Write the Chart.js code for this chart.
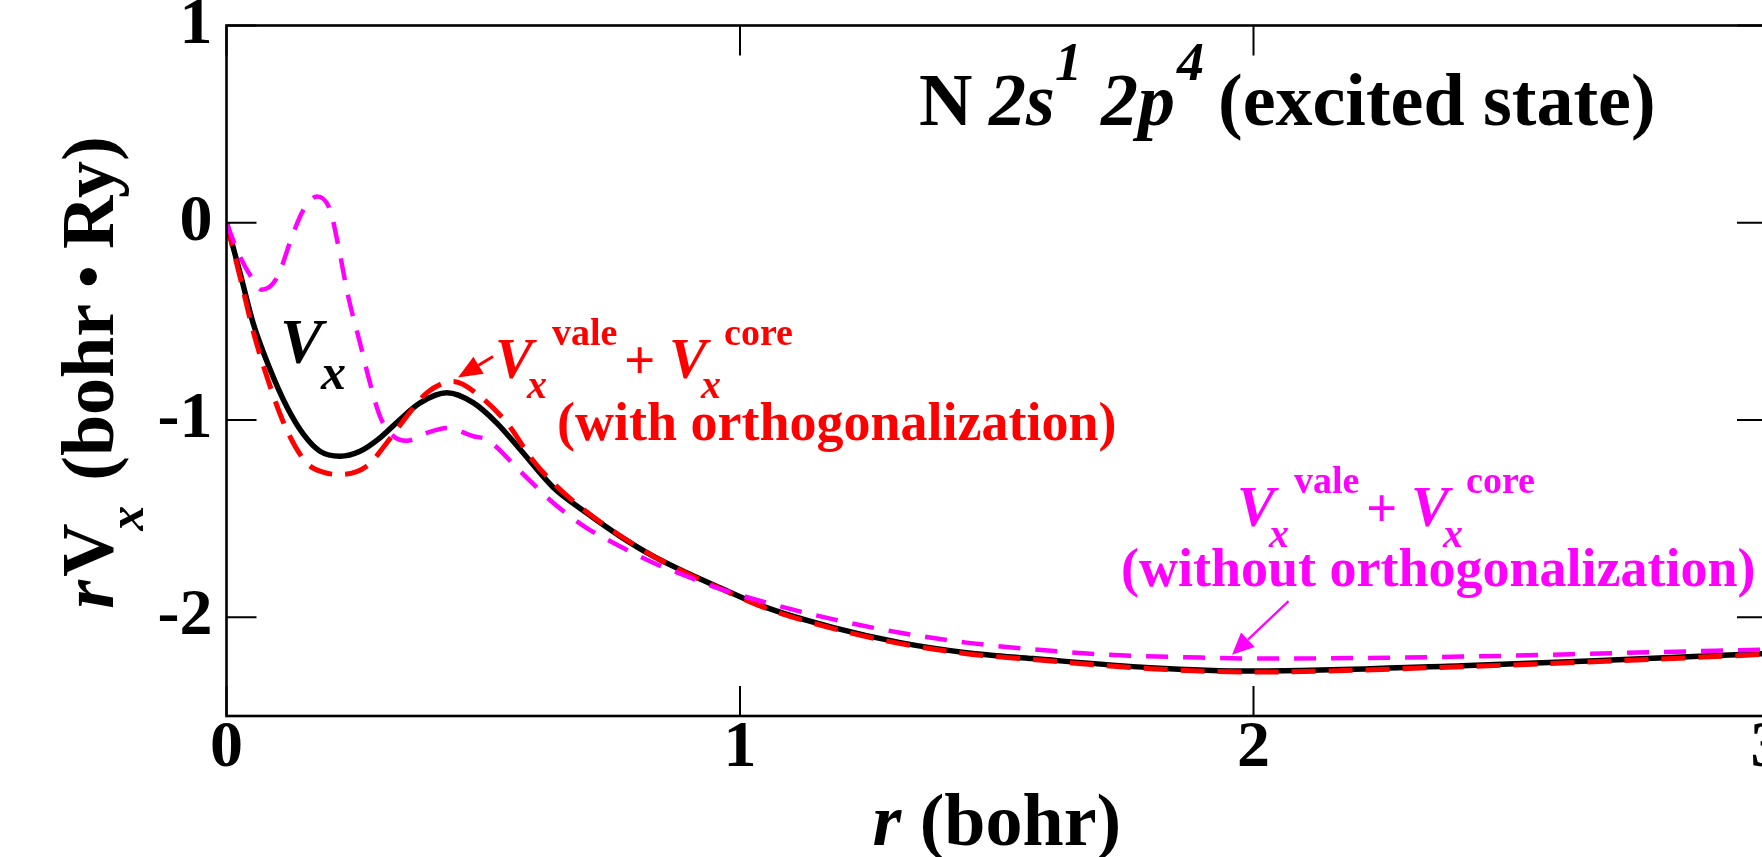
<!DOCTYPE html>
<html>
<head>
<meta charset="utf-8">
<script src="https://cdn.jsdelivr.net/npm/chart.js@4.4.1/dist/chart.umd.min.js"></script>
<style>
  html, body { margin: 0; padding: 0; background: #fff; overflow: hidden; width: 1762px; height: 857px; }
  #wrap { width: 1800px; height: 857px; }
  canvas { display: block; }
</style>
</head>
<body>
<div id="wrap"><canvas id="c" width="1800" height="857"></canvas></div>
<script>
// ---------------- data ----------------
const xTicks = [0, 1, 2, 3];
const yTicks = [-2, -1, 0, 1];

// V_x (black solid)
const rVx = [0, 0.026, 0.052, 0.085, 0.117, 0.150, 0.182, 0.221, 0.260, 0.299, 0.338, 0.377, 0.429, 0.481, 0.526, 0.572, 0.636, 0.701, 0.766, 0.831, 0.896, 0.961, 1.052, 1.182, 1.312, 1.441, 1.571, 1.798, 2.000, 2.406, 2.710, 3.000];
const vx  = [0, -0.25, -0.51, -0.744, -0.93, -1.073, -1.158, -1.183, -1.158, -1.09, -0.997, -0.913, -0.862, -0.913, -1.014, -1.149, -1.34, -1.47, -1.588, -1.69, -1.774, -1.85, -1.951, -2.052, -2.128, -2.179, -2.209, -2.255, -2.272, -2.245, -2.215, -2.183];

// V_x^vale + V_x^core with orthogonalization (red dashed)
const rOrth  = [0, 0.026, 0.052, 0.085, 0.117, 0.156, 0.190, 0.221, 0.273, 0.312, 0.351, 0.390, 0.442, 0.494, 0.546, 0.597, 0.636, 0.701, 0.766, 0.831, 0.896, 0.961, 1.052, 1.182, 1.312, 1.441, 1.571, 1.798, 2.000, 2.406, 2.710, 3.000];
const vxOrth = [0, -0.27, -0.55, -0.829, -1.048, -1.217, -1.265, -1.276, -1.234, -1.116, -0.981, -0.862, -0.804, -0.88, -1.014, -1.205, -1.318, -1.465, -1.585, -1.69, -1.776, -1.853, -1.955, -2.057, -2.133, -2.184, -2.214, -2.26, -2.277, -2.25, -2.22, -2.187];

// V_x^vale + V_x^core without orthogonalization (magenta dashed)
const rNoOrth  = [0, 0.026, 0.052, 0.0685, 0.098, 0.130, 0.150, 0.176, 0.2016, 0.218, 0.237, 0.260, 0.2795, 0.299, 0.318, 0.351, 0.390, 0.429, 0.481, 0.507, 0.572, 0.636, 0.701, 0.766, 0.831, 0.896, 0.955, 1.052, 1.182, 1.312, 1.441, 1.571, 1.700, 1.896, 2.000, 2.406, 2.710, 3.000];
const vxNoOrth = [0, -0.17, -0.289, -0.339, -0.28, -0.052, 0.066, 0.133, 0.066, -0.12, -0.373, -0.609, -0.812, -0.981, -1.065, -1.105, -1.065, -1.04, -1.082, -1.099, -1.259, -1.419, -1.546, -1.639, -1.723, -1.791, -1.85, -1.926, -2.01, -2.078, -2.128, -2.162, -2.187, -2.204, -2.209, -2.199, -2.181, -2.163];

// ---------------- styling / annotation placement ----------------
const FAM = '"Liberation Serif", "Times New Roman", Times, serif';
const B  = s => `bold ${s}px ${FAM}`;
const BI = s => `bold italic ${s}px ${FAM}`;

// annotation anchors in data units (r, rVx)
const anchors = {
  title:   [1.3486, 0.4962],
  vxLabel: [0.1042, -0.7089],
  redEq:   [0.5229, -0.7848],
  redTxt:  [0.6436, -1.0987],
  magEq:   [1.9679, -1.5392],
  magTxt:  [1.7420, -1.8430],
  redArrow: [[0.519, -0.678], [0.4508, -0.7848]],
  magArrow: [[2.0683, -1.9175], [1.9581, -2.1899]]
};

const pts = (xs, ys) => xs.map((x, i) => ({ x: x, y: ys[i] }));

function drawRuns(ctx, ax, ay, segs, color) {
  ctx.fillStyle = color;
  ctx.textAlign = 'left';
  ctx.textBaseline = 'alphabetic';
  segs.forEach(s => { ctx.font = s.f; ctx.fillText(s.t, ax + s.dx, ay + (s.dy || 0)); });
}

function arrow(ctx, x1, y1, x2, y2, color, lw, hl, hw) {
  const ang = Math.atan2(y2 - y1, x2 - x1);
  const bx = x2 - hl * Math.cos(ang), by = y2 - hl * Math.sin(ang);
  ctx.strokeStyle = color; ctx.fillStyle = color; ctx.lineWidth = lw;
  ctx.setLineDash([]);
  ctx.beginPath(); ctx.moveTo(x1, y1); ctx.lineTo(bx, by); ctx.stroke();
  ctx.beginPath();
  ctx.moveTo(x2, y2);
  ctx.lineTo(bx + hw / 2 * Math.sin(ang), by - hw / 2 * Math.cos(ang));
  ctx.lineTo(bx - hw / 2 * Math.sin(ang), by + hw / 2 * Math.cos(ang));
  ctx.closePath(); ctx.fill();
}

const decorPlugin = {
  id: 'decor',
  afterDraw(chart) {
    const { ctx, chartArea: a, scales: { x, y } } = chart;
    const P = (p) => [x.getPixelForValue(p[0]), y.getPixelForValue(p[1])];
    ctx.save();
    ctx.setLineDash([]);
    // frame
    ctx.strokeStyle = '#000';
    ctx.lineWidth = 2.6;
    ctx.strokeRect(a.left, a.top, a.right - a.left, a.bottom - a.top);
    // inward ticks on all four sides
    const TL = 30;
    ctx.lineWidth = 2;
    ctx.beginPath();
    xTicks.forEach(v => {
      const px = x.getPixelForValue(v);
      ctx.moveTo(px, a.bottom); ctx.lineTo(px, a.bottom - TL);
      ctx.moveTo(px, a.top); ctx.lineTo(px, a.top + TL);
    });
    yTicks.forEach(v => {
      const py = y.getPixelForValue(v);
      ctx.moveTo(a.left, py); ctx.lineTo(a.left + TL, py);
      ctx.moveTo(a.right, py); ctx.lineTo(a.right - TL, py);
    });
    ctx.stroke();

    // x axis title: r (bohr)
    {
      ctx.textBaseline = 'alphabetic'; ctx.textAlign = 'left'; ctx.fillStyle = '#000';
      ctx.font = BI(74); const w1 = ctx.measureText('r ').width;
      ctx.font = B(74); const w2 = ctx.measureText('(bohr)').width;
      const cx = (a.left + a.right) / 2, base = 845;
      let sx = cx - (w1 + w2) / 2;
      ctx.font = BI(74); ctx.fillText('r', sx, base);
      ctx.font = B(74); ctx.fillText('(bohr)', sx + w1, base);
    }

    // y axis title: rV_x (bohr • Ry), rotated
    {
      const cy = (a.top + a.bottom) / 2;
      ctx.save();
      ctx.translate(113, cy + 238);
      ctx.rotate(-Math.PI / 2);
      ctx.fillStyle = '#000'; ctx.textAlign = 'left'; ctx.textBaseline = 'alphabetic';
      ctx.font = BI(74); ctx.fillText('r', 0, 0);
      ctx.font = B(74); ctx.fillText('V', 32, 0);
      ctx.font = BI(50); ctx.fillText('x', 78, 30);
      ctx.font = B(74);
      const t1 = '(bohr ';
      ctx.fillText(t1, 128, 0);
      let px = 128 + ctx.measureText(t1).width;
      ctx.font = B(64);
      const bw = ctx.measureText('\u2022').width;
      ctx.textBaseline = 'middle';
      ctx.fillText('\u2022', px + (18 - bw) / 2, -21);
      ctx.textBaseline = 'alphabetic';
      ctx.font = B(74);
      ctx.fillText(' Ry)', px + 18, 0);
      ctx.restore();
    }

    // top-right title: N 2s^1 2p^4 (excited state)
    {
      const [tx, ty] = P(anchors.title);
      drawRuns(ctx, tx, ty, [
        { t: 'N', f: B(74), dx: 0 },
        { t: '2s', f: BI(74), dx: 70 },
        { t: '1', f: BI(54), dx: 136, dy: -45 },
        { t: '2p', f: BI(74), dx: 182 },
        { t: '4', f: BI(54), dx: 258, dy: -45 },
        { t: '(excited state)', f: B(74), dx: 299 }
      ], '#000');
    }

    // black V_x label
    {
      const [lx, ly] = P(anchors.vxLabel);
      drawRuns(ctx, lx, ly, [
        { t: 'V', f: BI(64), dx: 0 },
        { t: 'x', f: BI(50), dx: 41, dy: 26 }
      ], '#000');
    }

    // V_x^vale + V_x^core labels
    const eq = (col, anc, sub) => {
      const [ex, ey] = P(anc);
      drawRuns(ctx, ex, ey, [
        { t: 'V', f: BI(57), dx: 0 },
        { t: 'x', f: BI(40), dx: 32, dy: sub },
        { t: 'vale', f: B(38), dx: 57, dy: -33 },
        { t: '+', f: B(55), dx: 129 },
        { t: 'V', f: BI(57), dx: 174 },
        { t: 'x', f: BI(40), dx: 206, dy: sub },
        { t: 'core', f: B(38), dx: 229, dy: -33 }
      ], col);
    };
    eq('#ff0000', anchors.redEq, 20);
    {
      const [rx, ry] = P(anchors.redTxt);
      drawRuns(ctx, rx, ry, [{ t: '(with orthogonalization)', f: B(54), dx: 0 }], '#ff0000');
    }
    eq('#ff00ff', anchors.magEq, 21);
    {
      const [mx, my] = P(anchors.magTxt);
      drawRuns(ctx, mx, my, [{ t: '(without orthogonalization)', f: B(54), dx: 0 }], '#ff00ff');
    }

    // arrows
    {
      const [p1, p2] = anchors.redArrow.map(P);
      arrow(ctx, p1[0], p1[1], p2[0], p2[1], '#ff0000', 3, 24, 20);
      const [q1, q2] = anchors.magArrow.map(P);
      arrow(ctx, q1[0], q1[1], q2[0], q2[1], '#ff00ff', 2.2, 22, 20);
    }
    ctx.restore();
  }
};

const tickFont = { family: FAM, size: 66, weight: 'bold', lineHeight: 1 };

new Chart(document.getElementById('c'), {
  type: 'line',
  data: {
    datasets: [
      { label: 'Vx', data: pts(rVx, vx), borderColor: '#000000', borderWidth: 5.5, order: 2 },
      { label: 'Vx vale + Vx core (with orthogonalization)', data: pts(rOrth, vxOrth), borderColor: '#ff0000', borderWidth: 5, borderDash: [24, 13], order: 1 },
      { label: 'Vx vale + Vx core (without orthogonalization)', data: pts(rNoOrth, vxNoOrth), borderColor: '#ff00ff', borderWidth: 4.5, borderDash: [22, 15], order: 0 }
    ]
  },
  options: {
    responsive: false,
    animation: false,
    devicePixelRatio: 1,
    layout: { padding: { top: 25.5, right: 33, left: 0, bottom: 0 } },
    plugins: { legend: { display: false }, tooltip: { enabled: false }, title: { display: false } },
    elements: {
      point: { radius: 0, hoverRadius: 0 },
      line: { cubicInterpolationMode: 'monotone', fill: false, borderCapStyle: 'butt' }
    },
    scales: {
      x: {
        type: 'linear', min: 0, max: 3,
        grid: { display: false, drawTicks: false },
        border: { display: false },
        afterBuildTicks: s => { s.ticks = xTicks.map(v => ({ value: v })); },
        afterFit: s => { s.height = 141; s.paddingLeft = 0; s.paddingRight = 0; },
        ticks: { autoSkip: false, maxRotation: 0, minRotation: 0, padding: 0, color: '#000', font: tickFont, callback: v => String(v) }
      },
      y: {
        type: 'linear', min: -2.5, max: 1,
        grid: { display: false, drawTicks: false },
        border: { display: false },
        afterBuildTicks: s => { s.ticks = yTicks.map(v => ({ value: v })); },
        afterFit: s => { s.width = 226.5; s.paddingTop = 0; s.paddingBottom = 0; },
        ticks: { autoSkip: false, padding: 14, color: '#000', font: tickFont, callback: v => String(v) }
      }
    }
  },
  plugins: [decorPlugin]
});
</script>
</body>
</html>
